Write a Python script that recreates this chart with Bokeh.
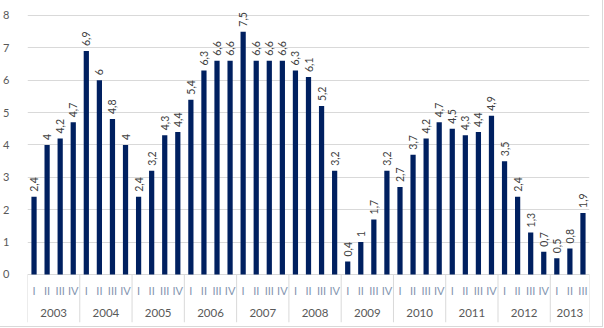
import math
from bokeh.plotting import figure
from bokeh.models import Range1d, FixedTicker, ColumnDataSource
from bokeh.core.properties import value
from bokeh.embed import file_html
from bokeh.resources import INLINE

# ---- data ----
years = ["2003", "2004", "2005", "2006", "2007", "2008",
         "2009", "2010", "2011", "2012", "2013"]
quarter_names = ["I", "II", "III", "IV"]
quarters_per_year = [4, 4, 4, 4, 4, 4, 4, 4, 4, 4, 3]
values = [
    2.4, 4.0, 4.2, 4.7,   # 2003
    6.9, 6.0, 4.8, 4.0,   # 2004
    2.4, 3.2, 4.3, 4.4,   # 2005
    5.4, 6.3, 6.6, 6.6,   # 2006
    7.5, 6.6, 6.6, 6.6,   # 2007
    6.3, 6.1, 5.2, 3.2,   # 2008
    0.4, 1.0, 1.7, 3.2,   # 2009
    2.7, 3.7, 4.2, 4.7,   # 2010
    4.5, 4.3, 4.4, 4.9,   # 2011
    3.5, 2.4, 1.3, 0.7,   # 2012
    0.5, 0.8, 1.9,        # 2013
]
y_ticks = [0, 1, 2, 3, 4, 5, 6, 7, 8]

# ---- derived ----
idx = list(range(len(values)))
q_labels = []
year_centers = []
boundaries = [-0.5]
start = 0
for y, n in zip(years, quarters_per_year):
    q_labels += quarter_names[:n]
    year_centers.append(start + (n - 1) / 2)
    start += n
    boundaries.append(start - 0.5)

val_labels = [("%g" % v).replace(".", ",") for v in values]

FONT = "Lato"
BAR = "#002060"
GRID = "#d9d9d9"
TXT = "#595959"

y_start, y_end = -1.483, 8.40

p = figure(width=603, height=327, output_backend="svg", toolbar_location=None,
           x_range=Range1d(-0.5, len(values) - 0.5),
           y_range=Range1d(y_start, y_end),
           min_border_left=26, min_border_right=14,
           min_border_top=2, min_border_bottom=5)
p.styles = {"border-right": "1px solid #d9d9d9", "border-bottom": "1px solid #d9d9d9"}
p.outline_line_color = None
p.background_fill_color = "white"
p.border_fill_color = "white"

p.xaxis.visible = False
p.xgrid.visible = False
p.ygrid.ticker = FixedTicker(ticks=y_ticks)
p.ygrid.grid_line_color = GRID
p.ygrid.grid_line_width = 1

p.yaxis.ticker = FixedTicker(ticks=y_ticks)
p.yaxis.axis_line_color = None
p.yaxis.major_tick_line_color = None
p.yaxis.minor_tick_line_color = None
p.yaxis.major_label_standoff = 12
p.yaxis.major_label_text_font = FONT
p.yaxis.major_label_text_font_size = "11px"
p.yaxis.major_label_text_color = TXT

src = ColumnDataSource(dict(x=idx, top=values, lab=val_labels, q=q_labels,
                            zero=[0] * len(values)))

p.vbar(x="x", top="top", bottom=0, width=0.4, source=src,
       fill_color=BAR, line_color=None)

# category separators
p.segment(x0=boundaries, x1=boundaries, y0=[0] * len(boundaries),
          y1=[y_start] * len(boundaries), line_color=GRID, line_width=1)

# value labels
p.text(x="x", y="top", text="lab", source=src, angle=math.pi / 2,
       text_align="left", text_baseline="middle", x_offset=0, y_offset=-5,
       text_font=value(FONT), text_font_size="10.5px", text_color="#404040")

# quarter labels
p.text(x="x", y="zero", text="q", source=src, text_align="center",
       text_baseline="middle", y_offset=16, text_font=value(FONT),
       text_font_size="11px", text_color="#8496b0")

# year labels
p.text(x=year_centers, y=[0] * len(years), text=years, text_align="center",
       text_baseline="middle", y_offset=38.5, text_font=value(FONT),
       text_font_size="11.5px", text_color=TXT)

open("out.html", "w").write(file_html(p, INLINE))
